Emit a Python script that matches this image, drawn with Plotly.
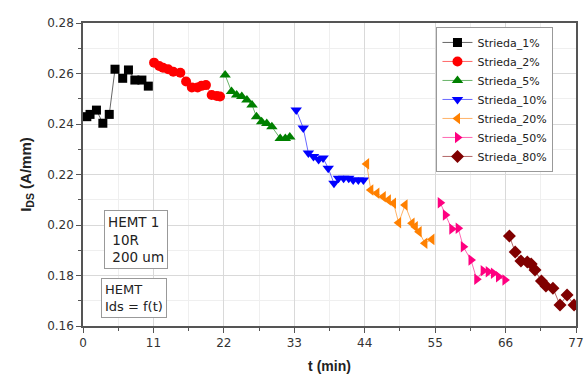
import plotly.graph_objects as go

# ---- data ----
t_1 = [0.6, 1.1, 2.1, 3.1, 4.1, 5.0, 6.2, 7.1, 8.1, 9.2, 10.2]
i_1 = [0.2429, 0.2438, 0.2455, 0.2403, 0.2438, 0.2617, 0.2581, 0.2614, 0.2574, 0.2574, 0.2550]

t_2 = [11.1, 11.9, 12.5, 13.3, 14.1, 15.2, 16.1, 17.0, 17.9, 18.5, 19.2, 20.1, 20.9, 21.4]
i_2 = [0.2643, 0.2630, 0.2623, 0.2617, 0.2607, 0.2603, 0.2568, 0.2545, 0.2545, 0.2551, 0.2554, 0.2515, 0.2511, 0.2509]

t_5 = [22.2, 23.2, 24.0, 24.8, 25.6, 26.4, 27.1, 27.9, 28.7, 29.5, 30.8, 31.6, 32.3]
i_5 = [0.2594, 0.2529, 0.2515, 0.2509, 0.2495, 0.2475, 0.2429, 0.2409, 0.2402, 0.2389, 0.2343, 0.2343, 0.2349]

t_10 = [33.3, 34.4, 35.2, 36.0, 36.8, 37.5, 38.3, 39.2, 39.9, 40.7, 41.5, 42.2, 43.0, 43.8]
i_10 = [0.2455, 0.2384, 0.2285, 0.2271, 0.2259, 0.2265, 0.2225, 0.2165, 0.2185, 0.2185, 0.2185, 0.2178, 0.2178, 0.2178]

t_20 = [44.3, 44.95, 45.9, 46.9, 47.7, 48.5, 49.3, 50.3, 51.4, 51.9, 52.5, 53.4, 54.5]
i_20 = [0.2242, 0.2139, 0.2126, 0.2112, 0.2099, 0.2086, 0.2009, 0.2079, 0.2007, 0.1993, 0.1973, 0.1928, 0.1943]

t_50 = [55.8, 56.6, 57.6, 58.6, 59.4, 60.6, 61.5, 62.5, 63.3, 64.1, 64.9, 65.9]
i_50 = [0.2088, 0.2040, 0.1984, 0.1987, 0.1914, 0.1861, 0.1785, 0.1819, 0.1815, 0.1809, 0.1795, 0.1782]

t_80 = [66.6, 67.5, 68.4, 69.4, 70.0, 70.6, 71.6, 72.3, 73.4, 74.5, 75.6, 76.7]
i_80 = [0.1956, 0.1893, 0.1857, 0.1853, 0.1846, 0.1822, 0.1778, 0.1758, 0.1750, 0.1683, 0.1723, 0.1683]

names = ["Strieda_1%", "Strieda_2%", "Strieda_5%", "Strieda_10%", "Strieda_20%", "Strieda_50%", "Strieda_80%"]
x_ticks = [0, 11, 22, 33, 44, 55, 66, 77]

series = [(t_1, i_1), (t_2, i_2), (t_5, i_5), (t_10, i_10), (t_20, i_20), (t_50, i_50), (t_80, i_80)]
colors = ["#000000", "#ff0000", "#008000", "#0000ff", "#ff8000", "#ff0080", "#800000"]
symbols = ["square", "circle", "triangle-up", "triangle-down", "triangle-left", "triangle-right", "diamond"]
sizes = [9, 10, 10, 10, 10, 10, 10]

FONT = "DejaVu Sans, Liberation Sans, Arial"

fig = go.Figure()
for (t, i), n, c, s, sz in zip(series, names, colors, symbols, sizes):
    fig.add_trace(go.Scatter(
        x=t, y=i, name=n, mode="lines+markers",
        line=dict(color=c, width=0.6),
        marker=dict(symbol=s, color=c, size=sz, line=dict(width=0)),
    ))

axis_common = dict(
    showline=True, linecolor="#555555", linewidth=1.5, mirror=True,
    ticks="outside", ticklen=5, tickcolor="#555555", tickwidth=1,
    showgrid=True, gridcolor="#d9d9d9", gridwidth=1,
    tickfont=dict(family=FONT, size=12, color="#333333"),
    zeroline=False, automargin=False,
)

fig.update_xaxes(
    range=[0, 77], tickvals=x_ticks,
    minor=dict(dtick=5.5, tick0=0, ticks="outside", ticklen=3, tickcolor="#555555",
               showgrid=True, gridcolor="#efefef"),
    title=dict(text="<b>t (min)</b>", font=dict(family="Liberation Sans, Arial", size=14, color="#222222"), standoff=12),
    **axis_common,
)
fig.update_yaxes(
    range=[0.16, 0.28], dtick=0.02, tick0=0.16, tickformat=".2f",
    minor=dict(dtick=0.01, tick0=0.16, ticks="outside", ticklen=3, tickcolor="#555555",
               showgrid=True, gridcolor="#efefef"),
    title=dict(text="<b>I<sub>DS</sub> (A/mm)</b>", font=dict(family="Liberation Sans, Arial", size=15, color="#222222"), standoff=12),
    **axis_common,
)

fig.add_annotation(
    x=0.043, y=0.382, xref="paper", yref="paper", xanchor="left", yanchor="top",
    text="HEMT 1<br>&nbsp;10R<br>&nbsp;200 um", showarrow=False, align="left",
    font=dict(family=FONT, size=13.5, color="#222222"),
    bordercolor="#999999", borderwidth=1, borderpad=3, bgcolor="white",
)
fig.add_annotation(
    x=0.037, y=0.160, xref="paper", yref="paper", xanchor="left", yanchor="top",
    text="HEMT<br>Ids = f(t)", showarrow=False, align="left",
    font=dict(family=FONT, size=13, color="#222222"),
    bordercolor="#999999", borderwidth=1, borderpad=3, bgcolor="white",
)

fig.update_layout(
    width=585, height=376,
    margin=dict(l=83, r=9, t=23, b=50),
    paper_bgcolor="white", plot_bgcolor="white",
    showlegend=True,
    legend=dict(
        x=0.717, y=0.987, xanchor="left", yanchor="top",
        bgcolor="white", bordercolor="#999999", borderwidth=1,
        font=dict(family=FONT, size=11, color="#222222"),
        itemwidth=30, tracegroupgap=0,
    ),
)

fig.write_html("out.html")
